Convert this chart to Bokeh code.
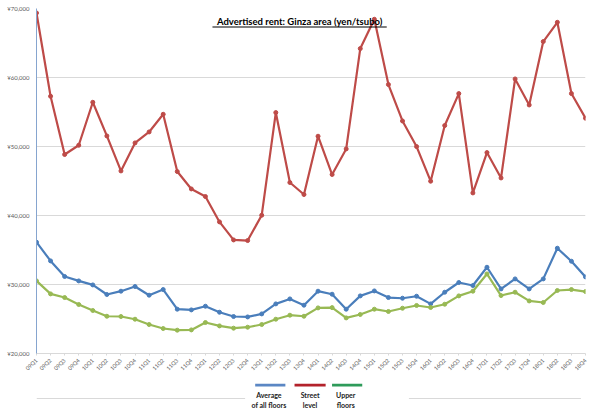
from bokeh.plotting import figure
from bokeh.layouts import column
from bokeh.models import Range1d, FixedTicker, Label, BoxAnnotation
from bokeh.embed import file_html
from bokeh.resources import INLINE

quarters = ["09Q1", "09Q2", "09Q3", "09Q4", "10Q1", "10Q2", "10Q3", "10Q4",
            "11Q1", "11Q2", "11Q3", "11Q4", "12Q1", "12Q2", "12Q3", "12Q4",
            "13Q1", "13Q2", "13Q3", "13Q4", "14Q1", "14Q2", "14Q3", "14Q4",
            "15Q1", "15Q2", "15Q3", "15Q4", "16Q1", "16Q2", "16Q3", "16Q4",
            "17Q1", "17Q2", "17Q3", "17Q4", "18Q1", "18Q2", "18Q3", "18Q4"]

average_all = [36130, 33420, 31160, 30520, 29940, 28550, 29030, 29710,
               28450, 29270, 26420, 26320, 26850, 25980, 25360, 25300,
               25740, 27190, 27910, 27000, 29030, 28590, 26420, 28350,
               29070, 28110, 28010, 28300, 27190, 28880, 30290, 29850,
               32500, 29360, 30810, 29360, 30810, 35260, 33370, 31100]

street_level = [69350, 57280, 48840, 50180, 56410, 51530, 46460, 50520,
                52110, 54670, 46370, 43850, 42750, 39070, 36460, 36370,
                40040, 54920, 44780, 43040, 51490, 45940, 49650, 64190,
                68440, 58980, 53700, 49990, 44970, 53040, 57670, 43270,
                49120, 45440, 59790, 56020, 65210, 68000, 57670, 54100]

upper_floors = [30520, 28640, 28110, 27100, 26230, 25400, 25360, 24970,
                24200, 23620, 23380, 23420, 24490, 24000, 23670, 23810,
                24200, 24970, 25550, 25400, 26610, 26650, 25160, 25650,
                26420, 26090, 26560, 26960, 26670, 27140, 28350, 29030,
                31530, 28400, 28880, 27620, 27390, 29130, 29270, 28980]

y_ticks = [20000, 30000, 40000, 50000, 60000, 70000]
y_tick_labels = ["¥20,000", "¥30,000", "¥40,000", "¥50,000", "¥60,000", "¥70,000"]

series_names = ["Average\nof all floors", "Street\nlevel", "Upper\nfloors"]
line_colors = ["#4A7EBB", "#BE4B48", "#98B954"]
legend_colors = ["#5B87C4", "#B3222B", "#2E9B5A"]

title_text = "Advertised rent: Ginza area (yen/tsubo)"

x = list(range(len(quarters)))

p = figure(width=600, height=380, output_backend="svg", toolbar_location=None,
           x_range=Range1d(0, len(quarters) - 1),
           y_range=Range1d(y_ticks[0], y_ticks[-1]),
           min_border_left=36, min_border_right=15, min_border_top=8,
           min_border_bottom=27)
p.outline_line_color = None
p.background_fill_color = "white"
p.border_fill_color = "white"

for ys, c in zip([average_all, street_level, upper_floors], line_colors):
    p.line(x, ys, line_color=c, line_width=2.2)
    p.scatter(x, ys, marker="circle", size=4, fill_color=c, line_color=c)

# axes
p.xaxis.ticker = FixedTicker(ticks=x)
p.xaxis.major_label_overrides = {i: q for i, q in enumerate(quarters)}
p.xaxis.major_label_orientation = 0.785398
p.xaxis.major_label_text_font = "Lato"
p.xaxis.major_label_text_font_size = "5.5px"
p.xaxis.major_label_text_color = "#595959"
p.xaxis.axis_line_color = "#D9D9D9"
p.xaxis.major_tick_line_color = "#D9D9D9"
p.xaxis.major_tick_in = 0
p.xaxis.major_tick_out = 2
p.xaxis.minor_tick_line_color = None
p.xaxis.major_label_standoff = 4

p.yaxis.ticker = FixedTicker(ticks=y_ticks)
p.yaxis.major_label_overrides = {t: l for t, l in zip(y_ticks, y_tick_labels)}
p.yaxis.major_label_text_font = "Lato"
p.yaxis.major_label_text_font_size = "6px"
p.yaxis.major_label_text_color = "#595959"
p.yaxis.axis_line_color = "#86A5CF"
p.yaxis.axis_line_width = 1
p.yaxis.major_tick_line_color = None
p.yaxis.major_tick_in = 0
p.yaxis.major_tick_out = 0
p.yaxis.minor_tick_line_color = None
p.yaxis.minor_tick_out = 0
p.yaxis.major_label_standoff = 7

p.xgrid.grid_line_color = None
p.ygrid.grid_line_color = "#D9D9D9"
p.ygrid.grid_line_width = 1

# title inside plot area, underlined
p.add_layout(Label(x=18.69, y=68160, text=title_text, text_align="center",
                   text_baseline="alphabetic", text_font="Lato",
                   text_font_style="bold", text_font_size="9.5px",
                   text_color="black"))
p.add_layout(BoxAnnotation(left=12.5, right=24.88, top=67400, bottom=67260,
                           fill_color="black", fill_alpha=1, line_color=None))

# legend strip below the chart (pixel-like ranges, y downward)
lg = figure(width=600, height=39, output_backend="svg", toolbar_location=None,
            x_range=Range1d(0, 600), y_range=Range1d(39, 0),
            min_border=0, min_border_left=0, min_border_right=0,
            min_border_top=0, min_border_bottom=0)
lg.axis.visible = False
lg.grid.visible = False
lg.outline_line_color = None
lg.background_fill_color = "white"
lg.border_fill_color = "white"

# chart-area border pieces (left/right of the legend box)
lg.add_layout(BoxAnnotation(left=0, right=228, top=18.5, bottom=17.5,
                            fill_color="#D9D9D9", fill_alpha=1, line_color=None))
lg.add_layout(BoxAnnotation(left=407, right=595, top=18.5, bottom=17.5,
                            fill_color="#D9D9D9", fill_alpha=1, line_color=None))

sw_left = [239, 282, 323]
sw_right = [272, 316, 356]
txt_x = [254, 299, 338]
for name, c, l, r, tx in zip(series_names, legend_colors, sw_left, sw_right, txt_x):
    lg.add_layout(BoxAnnotation(left=l, right=r, top=3.3, bottom=6.1,
                                fill_color=c, fill_alpha=1, line_color=None))
    lg.add_layout(Label(x=tx, y=19.8, text=name, text_align="center",
                        text_baseline="middle", text_font="Lato",
                        text_font_style="bold", text_font_size="7px",
                        text_color="#222222", text_line_height=1.25))

layout = column(p, lg, spacing=0)
open("out.html", "w").write(file_html(layout, INLINE))
